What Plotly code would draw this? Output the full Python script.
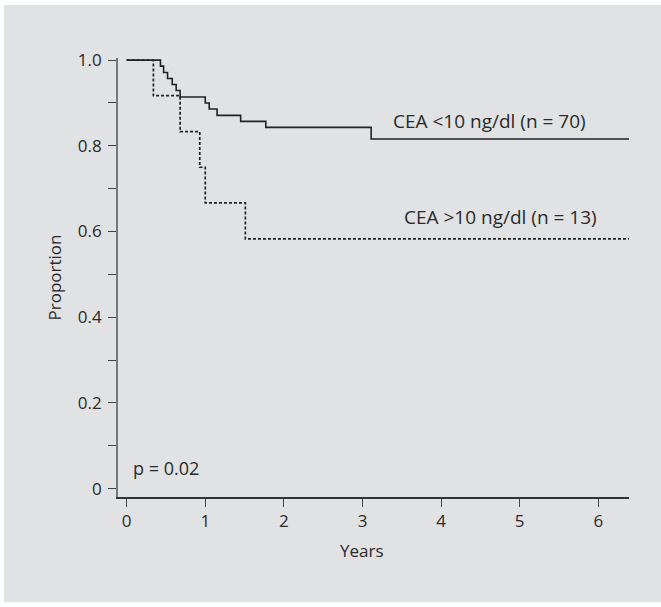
import plotly.graph_objects as go

# Kaplan-Meier step data
low_t = [0, 0.43, 0.47, 0.52, 0.58, 0.63, 0.68, 1.0, 1.05, 1.15, 1.45, 1.77, 3.11, 6.39]
low_s = [1.0, 0.986, 0.971, 0.957, 0.943, 0.929, 0.914, 0.900, 0.886, 0.871, 0.857, 0.843, 0.816, 0.816]
high_t = [0, 0.34, 0.68, 0.93, 1.0, 1.51, 6.39]
high_s = [1.0, 0.917, 0.833, 0.750, 0.667, 0.583, 0.583]

x_ticks = [0, 1, 2, 3, 4, 5, 6]
y_ticks = [0, 0.2, 0.4, 0.6, 0.8, 1.0]
y_tick_labels = ["0", "0.2", "0.4", "0.6", "0.8", "1.0"]
label_low = "CEA <10 ng/dl (n = 70)"
label_high = "CEA >10 ng/dl (n = 13)"
p_text = "p = 0.02"

FONT = "Open Sans"
TXT = "#2a2a2a"
BG = "#e1e2e4"
FS = 17

fig = go.Figure()
fig.add_trace(go.Scatter(x=low_t, y=low_s, mode="lines", line=dict(shape="hv", color="#222", width=1.6),
                         showlegend=False, hoverinfo="skip"))
fig.add_trace(go.Scatter(x=high_t, y=high_s, mode="lines",
                         line=dict(shape="hv", color="#222", width=1.7, dash="3px,2px"),
                         showlegend=False, hoverinfo="skip"))

fig.add_annotation(x=3.36, y=0.823, xref="x", yref="y", text=label_low, showarrow=False,
                   xanchor="left", yanchor="bottom", font=dict(family=FONT, size=19, color=TXT))
fig.add_annotation(x=3.5, y=0.6, xref="x", yref="y", text=label_high, showarrow=False,
                   xanchor="left", yanchor="bottom", font=dict(family=FONT, size=19, color=TXT))
fig.add_annotation(x=0.06, y=0.048, xref="x", yref="y", text=p_text, showarrow=False,
                   xanchor="left", yanchor="middle", font=dict(family=FONT, size=18, color=TXT))
fig.add_annotation(x=3, y=-0.121, xref="x", yref="paper", text="Years", showarrow=False,
                   xanchor="center", yanchor="middle", font=dict(family=FONT, size=FS, color=TXT))

# gray panel background
fig.add_shape(type="rect", xref="paper", yref="paper", x0=-0.223, x1=1.07, y0=-0.24, y1=1.121,
              fillcolor=BG, line=dict(width=0), layer="below")

fig.update_layout(
    width=661, height=607,
    margin=dict(l=118, r=32, t=58, b=110),
    paper_bgcolor="white", plot_bgcolor="rgba(0,0,0,0)",
    font=dict(family=FONT, size=FS, color=TXT),
    xaxis=dict(range=[-0.11, 6.39], tickvals=x_ticks, ticks="outside", ticklen=8, tickwidth=1.2,
               tickcolor="#444", showline=True, linecolor="#333", linewidth=1.5, showgrid=False,
               zeroline=False, tickfont=dict(family=FONT, size=FS, color=TXT)),
    yaxis=dict(range=[-0.0195, 1.005], tickvals=y_ticks, ticktext=y_tick_labels, ticks="outside", ticklen=8,
               tickwidth=1.2, tickcolor="#444", showline=True, linecolor="#777", linewidth=1.8,
               showgrid=False, zeroline=False, tickfont=dict(family=FONT, size=FS, color=TXT),
               ticklabelstandoff=3,
               minor=dict(tickvals=[0.1, 0.3, 0.5, 0.7, 0.9], ticks="outside", ticklen=8, tickcolor="#444", tickwidth=1.2),
               title=dict(text="Proportion", font=dict(family=FONT, size=FS, color=TXT), standoff=12)),
)

fig.write_html("out.html")
